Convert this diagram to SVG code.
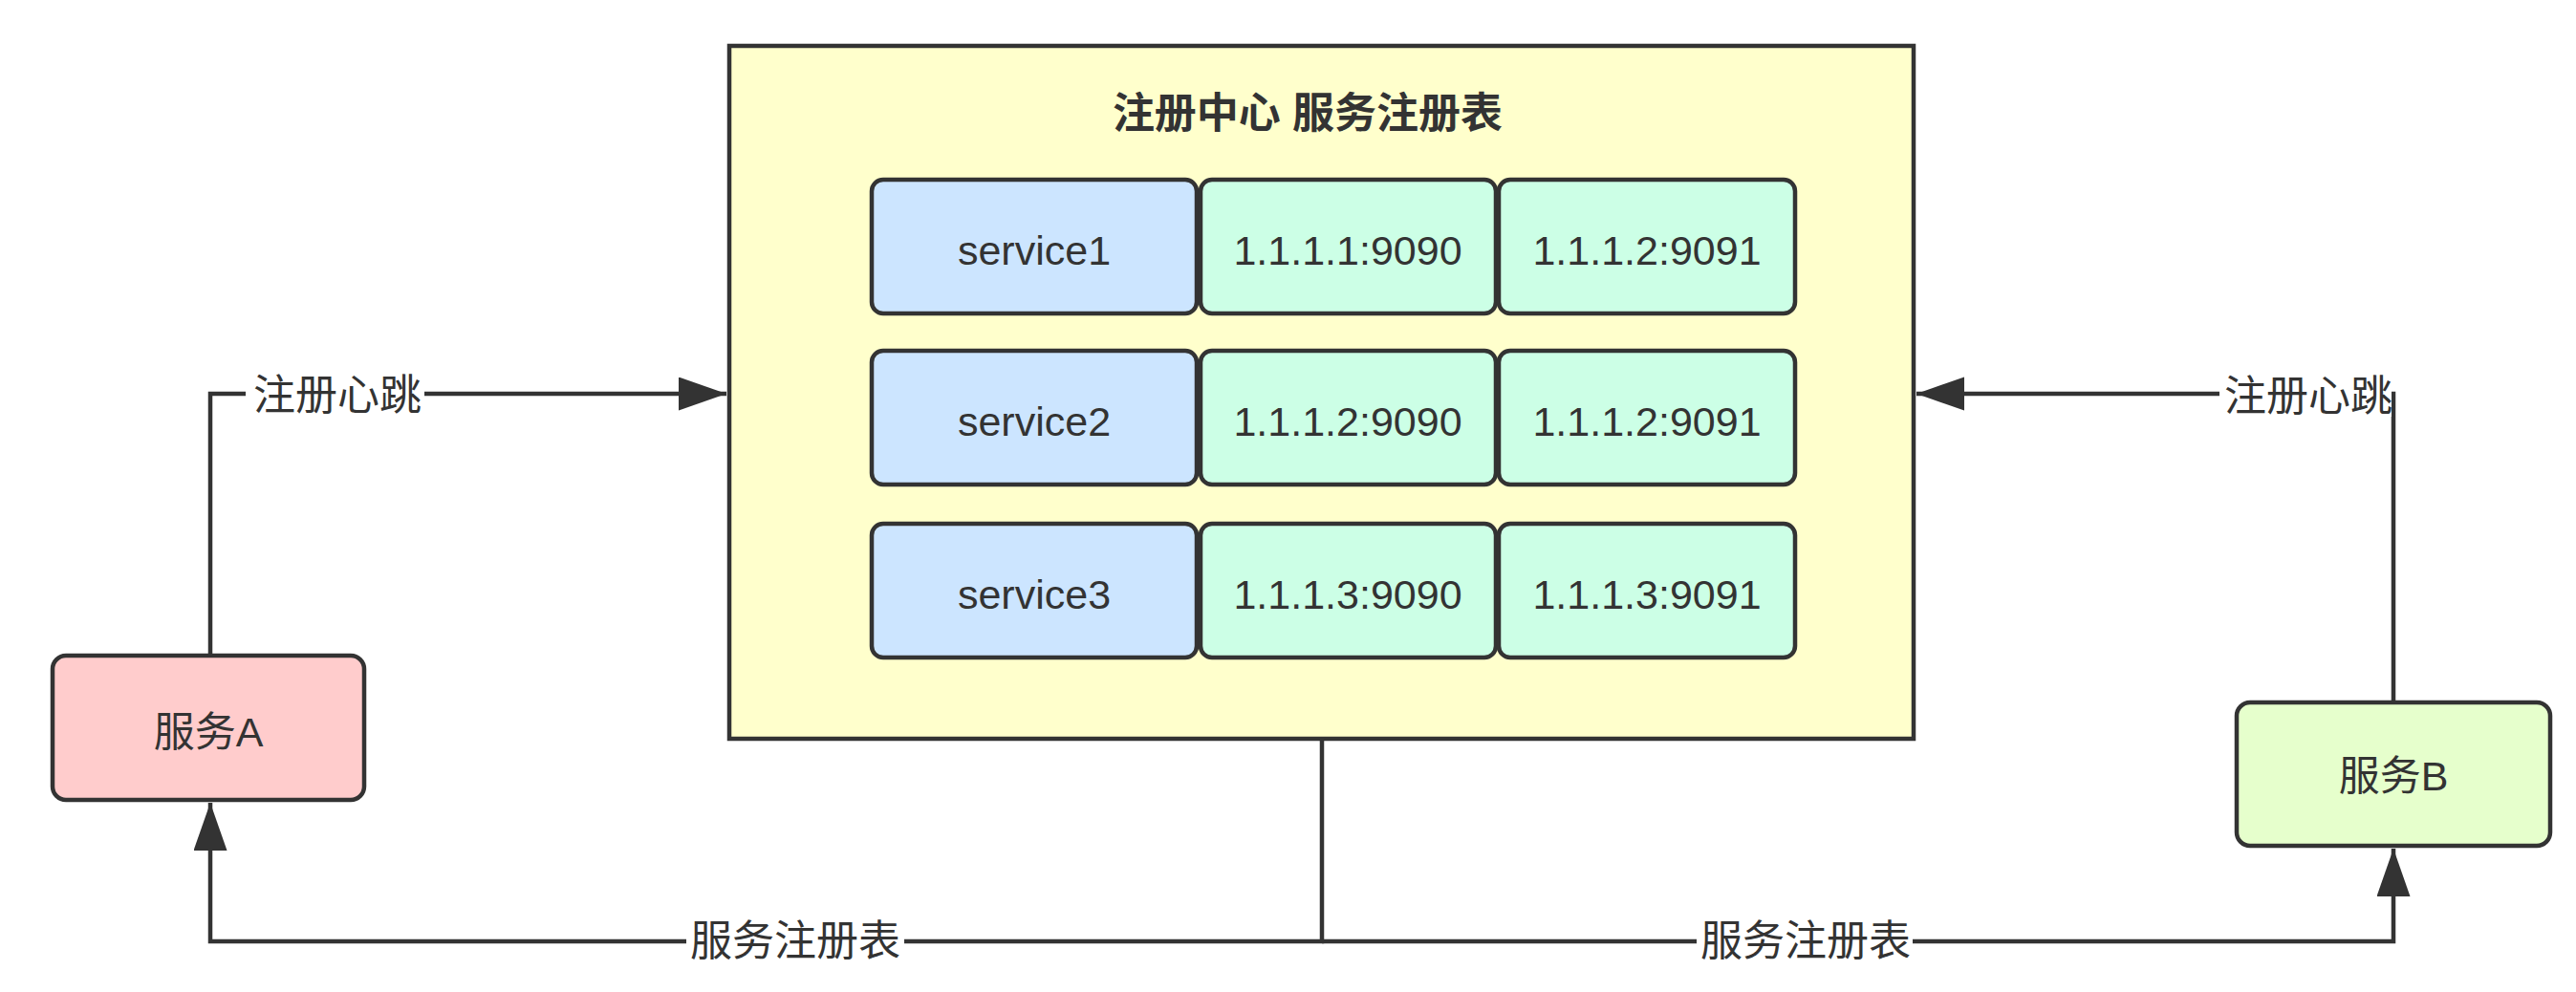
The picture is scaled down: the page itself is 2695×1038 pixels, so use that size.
<svg xmlns="http://www.w3.org/2000/svg" width="2695" height="1038" viewBox="0 0 2695 1038">
  <style>
    .box { stroke: #333333; stroke-width: 4.5; }
    .cell { stroke: #333333; stroke-width: 4.5; }
    .svc { fill: #CCE5FF; }
    .addr { fill: #CCFFE6; }
    .txt { font-family: "Liberation Sans", "Noto Sans CJK SC", sans-serif; font-size: 43px; fill: #333333; text-anchor: middle; }
    .title { font-family: "Liberation Sans", "Noto Sans CJK SC", sans-serif; font-size: 44px; font-weight: bold; fill: #333333; text-anchor: middle; }
    .lbl { font-family: "Noto Sans CJK SC", sans-serif; font-size: 44px; fill: #333333; text-anchor: middle; }
    .edge { fill: none; stroke: #333333; stroke-width: 4.5; }
    .lblbg { fill: #FFFFFF; }
  </style>
  <defs>
    <marker id="arrow" markerUnits="userSpaceOnUse" markerWidth="52" markerHeight="36" refX="50" refY="17.5" orient="auto">
      <path d="M0,0 L50,17.5 L0,35 Z" fill="#333333"/>
    </marker>
  </defs>
  <rect width="2695" height="1038" fill="#FFFFFF"/>

  <g id="registry">
    <rect class="box" x="763" y="48" width="1239" height="725" fill="#FFFFCC"/>
    <text class="title" x="1368" y="134">注册中心 服务注册表</text>
  </g>

  <g id="row1">
    <rect class="cell svc" x="912" y="188" width="340" height="140" rx="12"/>
    <text class="txt" x="1082" y="277">service1</text>
    <rect class="cell addr" x="1256" y="188" width="309" height="140" rx="12"/>
    <text class="txt" x="1410" y="277">1.1.1.1:9090</text>
    <rect class="cell addr" x="1568" y="188" width="310" height="140" rx="12"/>
    <text class="txt" x="1723" y="277">1.1.1.2:9091</text>
  </g>
  <g id="row2">
    <rect class="cell svc" x="912" y="367" width="340" height="140" rx="12"/>
    <text class="txt" x="1082" y="456">service2</text>
    <rect class="cell addr" x="1256" y="367" width="309" height="140" rx="12"/>
    <text class="txt" x="1410" y="456">1.1.1.2:9090</text>
    <rect class="cell addr" x="1568" y="367" width="310" height="140" rx="12"/>
    <text class="txt" x="1723" y="456">1.1.1.2:9091</text>
  </g>
  <g id="row3">
    <rect class="cell svc" x="912" y="548" width="340" height="140" rx="12"/>
    <text class="txt" x="1082" y="637">service3</text>
    <rect class="cell addr" x="1256" y="548" width="309" height="140" rx="12"/>
    <text class="txt" x="1410" y="637">1.1.1.3:9090</text>
    <rect class="cell addr" x="1568" y="548" width="310" height="140" rx="12"/>
    <text class="txt" x="1723" y="637">1.1.1.3:9091</text>
  </g>

  <g id="serviceA">
    <rect class="box" x="55" y="686" width="326" height="151" rx="14" fill="#FFCCCC"/>
    <text class="txt" x="218" y="781">服务A</text>
  </g>
  <g id="serviceB">
    <rect class="box" x="2340" y="735" width="328" height="150" rx="14" fill="#E6FFCC"/>
    <text class="txt" x="2504" y="827">服务B</text>
  </g>

  <g id="connectors">
    <path class="edge" d="M220,686 V412 H760" marker-end="url(#arrow)"/>
    <rect class="lblbg" x="257" y="390" width="187" height="46"/>
    <text class="lbl" x="353" y="429">注册心跳</text>

    <path class="edge" d="M2504,735 V412 H2005" marker-end="url(#arrow)"/>
    <rect class="lblbg" x="2322" y="390" width="180" height="46"/>
    <text class="lbl" x="2415" y="430">注册心跳</text>

    <path class="edge" d="M1383,773 V985 H220 V840" marker-end="url(#arrow)"/>
    <path class="edge" d="M1383,985 H2504 V888" marker-end="url(#arrow)"/>
    <rect class="lblbg" x="718" y="962" width="228" height="46"/>
    <text class="lbl" x="832" y="1000">服务注册表</text>
    <rect class="lblbg" x="1775" y="962" width="226" height="46"/>
    <text class="lbl" x="1889" y="1000">服务注册表</text>
  </g>
</svg>
